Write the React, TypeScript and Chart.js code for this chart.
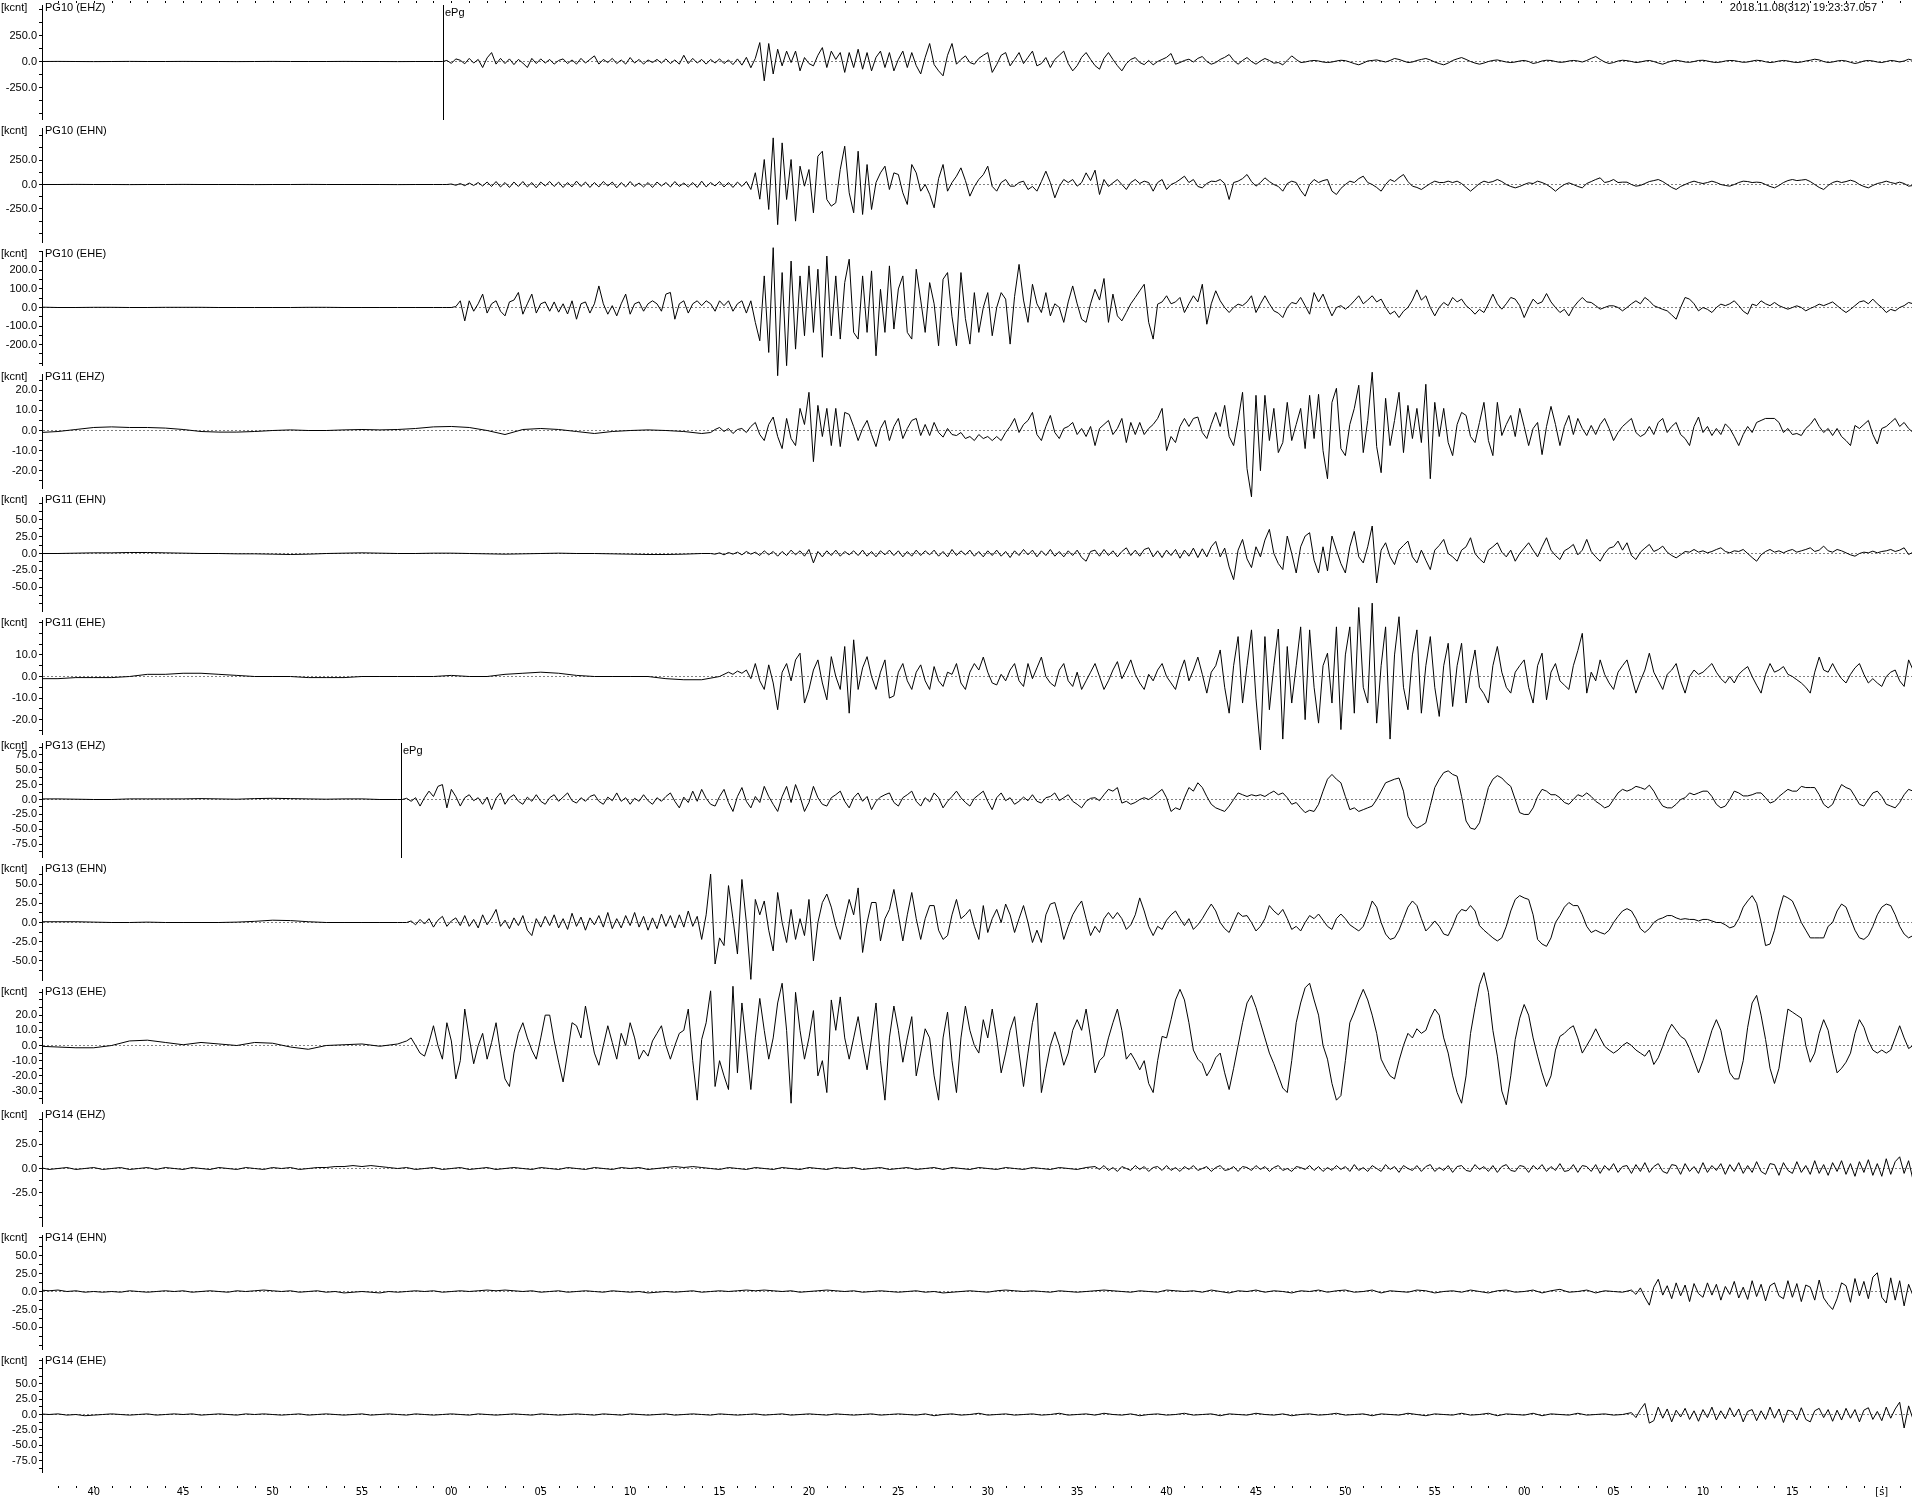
import React, { useEffect, useRef } from 'react';
import { Chart, registerables } from 'chart.js';

Chart.register(...registerables);

const FONT = "'Liberation Sans', Arial, Helvetica, sans-serif";
const FONT_NARROW = "'Liberation Sans Narrow', 'DejaVu Sans Condensed', 'Liberation Sans', Arial, sans-serif";

const X_MIN = 37.162;
const X_MAX = 141.69;
const TIMESTAMP = '2018.11.08(312) 19:23:37.057';

const CHANNELS = ['PG10 (EHZ)', 'PG10 (EHN)', 'PG10 (EHE)', 'PG11 (EHZ)', 'PG11 (EHN)', 'PG11 (EHE)', 'PG13 (EHZ)', 'PG13 (EHN)', 'PG13 (EHE)', 'PG14 (EHZ)', 'PG14 (EHN)', 'PG14 (EHE)'];
const Y_RANGE = [592, 628, 331, 30.6, 91.7, 28.5, 103, 80, 40.5, 63, 85.5, 100];
const Y_MINOR = [125, 125, 50, 5, 12.5, 5, 12.5, 12.5, 5, 12.5, 12.5, 12.5];
const Y_LABELS = [
  [250, 0, -250], [250, 0, -250], [200, 100, 0, -100, -200],
  [20, 10, 0, -10, -20], [50, 25, 0, -25, -50], [10, 0, -10, -20],
  [75, 50, 25, 0, -25, -50, -75], [50, 25, 0, -25, -50], [20, 10, 0, -10, -20, -30],
  [25, 0, -25], [50, 25, 0, -25, -50], [50, 25, 0, -25, -50, -75],
];
const X_TICK_SECONDS = [40, 45, 50, 55, 60, 65, 70, 75, 80, 85, 90, 95, 100, 105, 110, 115, 120, 125, 130, 135, 140];
const X_TICK_LABELS = ['40', '45', '50', '55', '00', '05', '10', '15', '20', '25', '30', '35', '40', '45', '50', '55', '00', '05', '10', '15', '[s]'];
const PICK_PANELS = [0, 6];
const PICK_TIMES = [59.55, 57.18];
const PICK_LABELS = ['ePg', 'ePg'];

// ---- PG10 EHZ ----
const PG10_EHZ_PRE = [0, 1, 0, -1, 0, 1, 0, 0, 1, 0, 0, -1, 0, 1, 0, 0, 0, 1, 0, 0, -1, 0, 0];
const PG10_EHZ_MAIN = [
  0, 10, -18, 25, 12, -22, 30, -15, 20, -58, 35, 86, -25, 30, -20, 25,
  -30, 20, -15, -58, 30, -20, 25, -15, 20, -25, 10, 25, -20, 15, -25, 30,
  -15, 20, 54, -25, 20, -10, 30, -20, 15, -25, 38, -15, 20, -25, 15, -10,
  20, -15, 25, -20, 15, -25, 60, -20, 30, -15, 20, -25, 20, -15, 25, -20,
  15, -30, 25, -35, 40, -60, 30, 182, -186, 173, -120, 118, -42, 100, -10, 100,
  -90, 38, -20, -42, 60, 134, -58, 100, 20, 86, -105, 86, -58, 118, -74, 86,
  -90, 40, 100, -58, 86, -90, 20, 100, -58, 86, -40, -120, 40, 173, -30, -90,
  -138, 60, 173, -26, 20, 54, -10, -26, 30, 60, 86, -105, -30, 60, 86, -42,
  20, 86, -20, 40, 100, -42, -20, 38, -58, 20, 60, 100, -20, -90, -40, 40,
  86, 20, -40, -74, 30, 86, 20, -40, -90, -20, 20, 38, -10, -30, 10, -32,
  0, 20, 40, 77, -26, -10, 10, 22, -5, 30, 48, 0, -26, -10, 20, 40,
  67, 10, -26, 10, 38, 0, -26, 5, 29, 10, -16, -10, -32, 10, 54, 20,
  -10, -5, 5, 10, 5, -5, -10, -5, 5, 12, 8, -5, -20, -32, -15, 5,
  10, 15, 5, -5, 10, 29, 20, 5, -10, -5, 10, 20, 29, 15, -5, -20,
  -32, -15, 10, 25, 38, 20, 0, -15, -26, -15, 0, 10, 15, 5, -5, -10,
  -5, 5, 10, 0, -19, -10, 5, 12, 10, 0, -8, -5, 5, 10, 5, -5,
  10, 30, 48, 20, -5, -19, -10, 5, 12, 8, 0, -10, -5, 5, 10, 0,
  -15, -26, -10, 5, 12, 5, -5, -8, 0, 10, 12, 5, -5, -10, -5, 5,
  10, 8, 0, -8, -5, 5, 12, 8, -3, -10, -5, 5, 10, 5, -5, -10,
  -5, 5, 12, 22, 15, 0, -10, -5, 5, 10, 5, -8, -19, -10, 5, 10,
  5, -5, -10, 0, 10, 5, -5, 5, 22, 10,
];

// ---- PG10 EHN ----
const PG10_EHN_PRE = [0, 0, 1, 0, 0, -1, 0, 0, 1, 0, 0, 0, -1, 0, 0, 1, 0, 0, 0, 0, -1, 0, 0];
const PG10_EHN_MAIN = [
  0, 0, 5, -8, 10, -12, 15, -10, 20, -15, 25, -20, 30, -25, 20, -30,
  25, -20, 30, -25, 20, -34, 25, -15, 30, -20, 25, -30, 20, -25, 34, -20,
  25, -30, 20, -25, 30, -15, 25, -34, 20, -25, 30, -20, 15, -25, 20, -30,
  25, -15, 20, -25, 30, -20, 15, -25, 20, -30, 34, -25, 20, -15, 30, -25,
  20, -30, 25, -20, 30, -51, 120, -150, 255, -255, 476, -410, 425, -153, 255, -374,
  187, -17, 153, -289, 289, 340, -153, -221, -187, 153, 391, -85, -289, 340, -306, 204,
  -255, 20, 119, 187, -51, 119, 102, -85, -204, 204, 119, -68, 0, -100, -238, 60,
  204, -68, 20, 85, 170, 40, -119, -20, 51, 100, 187, -20, -68, 20, 51, -17,
  -17, 20, 34, -51, -20, -68, 30, 136, 20, -136, -20, 51, 20, 51, -17, 20,
  119, 40, 146, -102, 51, -20, 17, 51, 0, -51, 20, 51, 10, 34, 20, -68,
  20, 51, -51, 0, 20, 51, 85, 20, 51, -20, -34, 10, 34, 30, 51, 10,
  -153, 20, 34, 60, 102, 30, -17, 20, 68, 30, 0, -20, -68, 10, 34, 20,
  -60, -119, 0, 51, 20, 40, 51, -68, -102, -40, 0, 34, 20, 60, 85, 20,
  0, -30, -68, 0, 51, 30, 70, 102, 30, -17, -30, -51, -20, 10, 34, 20,
  20, 34, 20, 34, 10, -30, -68, -30, 10, 34, 20, 30, 51, 30, 0, -20,
  -34, -20, 0, 17, 10, 34, 20, 0, -30, -68, -30, 0, 17, 0, -20, -34,
  10, 30, 51, 68, 20, 30, 51, 20, 24, 24, 0, -17, -10, 10, 30, 40,
  51, 30, 0, -30, -51, -20, 0, 20, 34, 20, 10, 20, 34, 20, 0, -10,
  -17, 0, 20, 34, 30, 20, 24, 20, 0, -20, -34, -10, 20, 40, 51, 40,
  45, 51, 30, 0, -30, -51, -10, 20, 34, 20, 30, 44, 30, 0, -20, -34,
  -10, 10, 20, 34, 20, 10, 24, 10, -17, -10,
];

// ---- PG10 EHE ----
const PG10_EHE_PRE = [2, 0, 0, 1, 1, 0, 0, 1, 1, 1, 0, 0, 0, 0, 0, 1, 1, 0, 0, 0, 0, 0, 0];
const PG10_EHE_MAIN = [
  0, 0, 0, 5, 36, -72, 36, -20, 20, 72, -30, 20, 36, -20, -45, 30,
  40, 81, -36, 20, 72, -30, 20, 30, -20, 30, -25, 20, -35, 36, -63, 20,
  30, -30, 20, 116, 20, -36, 10, -45, 20, 72, -36, 20, 30, -20, 20, 36,
  20, -20, 72, 81, -63, 20, 36, -30, 20, 36, 10, 36, 20, -20, 36, 10,
  36, -20, 20, 36, -30, 36, -80, -179, 170, -242, 322, -367, 188, -313, 250, -224,
  170, -152, 224, -134, 206, -268, 277, -152, 170, -170, 134, 260, -134, -170, 170, -134,
  197, -260, 98, -134, 224, -116, 100, 170, -134, -170, 206, 40, -134, 134, 20, -206,
  152, 188, -50, -206, 188, -60, -197, 80, -134, 0, 80, -152, 0, 80, 45, -197,
  60, 232, 40, -80, 125, 20, -27, 80, -45, 20, 0, -80, 30, 116, 20, -63,
  -80, 20, 98, 40, 156, -80, 72, -45, -72, -27, 20, 54, 90, 125, -80, -170,
  18, 30, 63, 20, 30, 54, -27, 20, 63, 30, 125, -90, 20, 90, 36, 0,
  -27, 0, 18, 10, 30, 63, -27, 20, 63, 20, -18, -30, -54, 0, 27, 20,
  54, 10, -36, 80, 30, 72, 10, -45, 0, 10, -9, 10, 36, 63, 20, 40,
  63, 30, 45, 0, -36, -20, -54, -20, 0, 40, 95, 40, 63, 0, -45, 0,
  27, 10, 54, 30, 45, 10, -10, -36, -10, -27, 20, 72, 20, -9, 20, 54,
  45, 10, -54, 0, 45, 20, 30, 75, 30, 0, -27, -10, -45, 0, 30, 54,
  30, 27, 10, -9, 0, 9, 9, 0, -18, 0, 20, 36, 20, 54, 36, 10,
  0, -10, -18, -40, -63, 0, 54, 45, 20, -18, 0, -10, -27, 0, 18, 10,
  20, 36, 10, -20, -36, 18, 10, 36, 20, 10, 27, 10, 0, -9, 0, 9,
  0, -18, -5, 5, 18, 10, 20, 30, 10, -10, -27, -10, 10, 30, 36, 20,
  45, 20, 0, -27, -10, -18, 0, 10, 27, 20,
];

// ---- PG11 EHZ ----
const PG11_EHZ_PRE = [-1, -0.5, 0.5, 1.5, 1.8, 1.5, 1.5, 1.2, 0.5, -0.5, -0.8, -0.8, -0.5, 0, 0.3, 0, 0, 0.3, 0.5, 0.3, 0.5, 1, 1.8, 2, 1.5, 0, -2, 0.5, 1, 0.5, -0.5, -1.5, -0.5, 0, 0.3, 0, -0.5, -1.5];
const PG11_EHZ_MAIN = [
  -1, 0.5, 1.5, -0.5, 1, -1.5, 0.5, 1, -1, 2, 4, -2, -5, 3, 6.7, -3,
  -9, 6, -4, -7.5, 11, 3, 19, -15.5, 12.5, -3, 11, -7.5, 11, -8, 9, 8,
  2, -5, 1, 5, -2, -8, 1, 5, -5, 2, 6, -4, 1, 5, 6, -2.5,
  3, -2.5, 4, -1, -3.3, 1, -2, -2.5, -1, -4, -3, -5, -2, -4, -3, -5,
  -3, -5, -1, 2, 6, -1, 3, 5, 9, -2, -5, 2, 7.5, -1, -4, 1,
  2, 4, -2, 1, -3, 2, -7.5, 1, 3, 5, -2, 1, 6, -6, 4, -2,
  4, -2, 1, 3, 6, 11, -10, -3, -6, 2, 6, 2, 6, 6.7, -1, -4,
  3, 9, 2, 12.5, -3, -7.5, 5, 19, -19, -33, 17.5, -20, 17.5, -5, 11, -11,
  -6, 14, -5, 3, 11, -9, 17.5, -4, 18, -10, -24, 14, 21, -9, -12.5, 3,
  11, 22.5, -11, 5, 29, -8, -21, 16, -7.5, 5, 19, -11, 12.5, -4, 11, -6,
  23, -24, 14, -3, 11, -6, -12.5, 3, 9, 7.5, -3, -6, 4, 14, -5, -12.5,
  14, -2.5, 3, 7.5, -3, 11, 2, -7.5, 1, 4, -12, 2, 12, 3, -7.5, 2,
  7.5, -2, 6, 1, -2.5, 2.5, -2, 3, 6, 1, -5, -1, 2, 4, 6, -1,
  -3, -1.7, 2, -2, 4, 6, -1, 2, 4, -2, -4, -7.5, 2, 6.7, -1, 2,
  -2.5, 1, -2, 3.3, 1, -3, -7.5, -2, 2, -1, 4, 5, 6, 6, 6, 4,
  -1, 1, -2, -1.5, -2.5, 1, 3, 6, 2, -1, 1, -2.5, 1, -3, -5, -7.5,
  2.5, 1, 3, 5, -2, -6.7, 1, 2, 4, 6, 2, 4, 1, -1,
];

// ---- PG11 EHN ----
const PG11_EHN_PRE = [0, 0, 0.5, 1, 1, 1.5, 1.5, 1, 0.5, 0, 0, -0.5, -0.5, -1, -1.5, -1, 0, 0.5, 1, 0.5, 0, 0, 0.5, 0.5, 0, -0.5, -1, -0.5, 0, 0.5, 0, 0, -0.5, -1, -1.5, -1.5, -1, 0];
const PG11_EHN_MAIN = [
  0, -1, 1, -2, 1.5, -1, 2, -2, 3, -1, 2, -3, 4, -2, 3, -4,
  3, -3, 5, -2, 4, -4, 6, -14, 3, -5, 4, -3, 5, -4, 3, -2,
  4, -3, 5, -4, 3, -5, 4, -2, 5, -3, 4, -5, 3, -4, 5, -3,
  4, -2, 5, -4, 3, -5, 6, -3, 4, -2, 5, -4, 3, -5, 4, -3,
  5, -4, 3, -6, 4, -3, 6, -2, 5, -5, 4, -3, 6, -4, 3, -5,
  4, -3, 5, -6, -11.5, 3, 5, -4, 6, -3, 4, -5, 3, 8.5, -3, 5,
  -4, 6, 8.5, -5, 4, -6, 5, -3, 6, -7, 5, -4, 8, -6, 7, -5,
  10, 18, -5, 8, -20, -39, 5, 21, -8, -21, 10, -5, 20, 36, 0, -15,
  -24, 26, 0, -29, 10, 26, 31, -10, -29, 10, -26, 26, 5, -15, -29, 10,
  33, -5, -14, 10, 41, -44, 5, 16, -5, -16.5, 5, 12, 18.5, -5, -14, 5,
  -10, -24, 5, 12, 21, 0, -5, -11.5, 5, 10, 23.5, 0, -8, -14, 5, 10,
  16, 2, -5, 5, -11.5, 0, 8, 16, 5, -5, 10, 23.5, 5, -3, -9, 4,
  8, 13.5, -2, 5, 21, 3, -5, -11.5, 0, 8, 10, 18.5, 5, 16, -3, -9,
  2, 8, 13.5, 3, 6, 11, 2, -3, -6.5, -2, 3, 2, 6, 2, 4, 1,
  3, 6, 8.5, 3, 1, 4, 3, 6, 0, -6, -11.5, -2, 3, 6, 2, 4,
  1, 4, 6, 2, 4, 6, 8.5, 3, 5, 11, 4, 2, 6, 4, 1, -2,
  -4, 0, 2, 1, 3.5, 1, 3, 4, 6, 3, 5, 8.5, -1.5, 2,
];

// ---- PG11 EHE ----
const PG11_EHE_PRE = [-1, -1, -0.5, -0.5, -0.5, 0, 1, 1, 1.5, 1.5, 1, 0.5, 0, 0, 0, -0.5, -0.5, -0.5, 0, 0, 0, 0, 0, 0.5, 0, 0, 1, 1.5, 2, 1.5, 0.5, 0, 0, 0, 0, -1, -1.5, -1.5, 0];
const PG11_EHE_MAIN = [
  2, 1, 2.5, 1.5, 3, -1, 6, -2, -6, 5.4, -3, -15.4, 2, 6, -2, 7.7,
  10.8, -12.3, -6, 3, 7.7, -3, -10.8, 9.2, 0, -6, 13.9, -17, 17, -6, 4, 9.2,
  0, -6, 2, 7.7, -10, -9, 2, 6, -2, -6, 2, 5.4, -2, -6, 4.6, -2,
  -4.6, 2, 1, 6, -3, -6, 2, 6, 3, 9, 2, -3, -3.9, 1, -2, 3,
  6, -2, -4.6, 6, -1, 4, 9, 0, -3, -4.6, 3, 6, -2, -4.6, 2, -6,
  -2, 2, 6, 0, -6, -2, 3, 6.9, -1, 3, 7.7, 1, -3, -6, 1, -2,
  3, 6, 0, -3, -6, 2, 7.7, -2, 3, 9, 1, -7.7, 2, 5, 12.3, -5,
  -17, 5, 18.5, -12.3, 5, 21.6, -10, -34, 18.5, -15.4, 5, 22, -29, 13.9, -12.3, 5,
  23, -20, 21.6, -5, -21.6, 5, 10.8, -12.3, 23, -24.6, 10, 23, -17, 32, -5, -12.3,
  34, -21.6, 5, 23, -29, 10, 27.7, -5, -15.4, 10, 21.6, -17, 5, 18.5, -5, -18.5,
  5, 15.4, -13.9, 5, 15.4, -12.3, 2, 12.3, -5, -8, -12.3, 5, 13.9, 2, -5, -7.7,
  2, 5, 7.7, -5, -12.3, 5, 10.8, -10.8, 2, 6, -2, -4, -6, 5, 12, 20,
  -7.7, 2, -2, 7.7, 1, -3, -6, 2, 5, 7.7, 0, -7.7, -2, 3, 10.8, 2,
  -2, -6, 1, 3, 6, -2, -7.7, 0, 3, 1, 2, 4, 6, 2, -1, -3,
  0, -3, 1, 3, 4.6, 0, -4, -7.7, 1, 6, 2, 3, 4.6, 1, 0, -1.5,
  -3, -5, -7.7, 2, 9, 3, 2, 6, 2, -1, -3, 1, 4, 6, 1, -3,
  -1, -3, -4.6, 0, 2, 3, -2, -4.6, 7.7, 3,
];

// ---- PG13 EHZ ----
const PG13_EHZ_PRE = [1, 1, 0.5, 0, 0, 1, 1, 1, 1, 1.5, 1, 0.5, 1.5, 2, 1.5, 1, 0.5, 1, 1, 0, 0];
const PG13_EHZ_MAIN = [
  0, 2, -3, 3, -11, 3, 14, 5, 22, 25, -14, 17, 5, -11, 3, 8,
  -2, 3, -8, 4, -17, 2, 11, -8, 3, 8, -3, -8, 4, -3, 8, -3,
  -8, 3, 8, -3, 4, 11, -2, -6, 3, -3, 5, 8, -3, -8, 4, -2,
  11, -3, 3, -8, 2, -3, 8, -2, -8, 3, -3, 5, 11, -3, -14, 4,
  -5, 14, -3, 17, 2, -8, -11, 5, 17, -5, -20, 5, 20, -3, -14, 5,
  -5, 22, 5, -8, -20, 5, 22, -5, 25, 5, -20, -5, 22, 3, -8, -11,
  3, 8, 14, -3, -14, 3, 11, -3, 5, -17, -3, 4, 8, 11, -5, -11,
  3, 8, 14, -3, -11, 3, -4, 11, 3, -14, -3, 5, 14, 3, -5, -11,
  2, 8, 14, -3, -17, 3, 11, -2, 3, -8, -3, 4, -2, 8, -3, -6,
  3, 5, 11, -2, 3, 8, -3, -8, -14, -3, 2, 3, -2, 8, 17, 14,
  20, -6, -3, -8, -5, 0, 3, 0, 5, 11, 17, 3, -20, -14, -17, 3,
  20, 14, 28, 20, 5, -8, -14, -17, -20, -11, 0, 11, 8, 5, 8, 6,
  8, 5, 10, 14, 8, 11, 3, -8, -5, -14, -22, -18, -20, -8, 14, 34,
  42, 34, 28, 5, -17, -14, -20, -17, -14, -11, 0, 14, 28, 31, 34, 36,
  14, -28, -42, -48, -44, -39, -10, 20, 34, 45, 48, 42, 39, 5, -36, -48,
  -50, -39, -10, 20, 34, 40, 36, 28, 22, 0, -22, -25, -25, -14, 5, 17,
  14, 8, 8, 3, -5, -8, 0, 8, 5, 11, 5, -3, -8, -14, -11, 0,
  11, 17, 14, 17, 22, 20, 17, 24, 14, 0, -11, -14, -14, -8, 0, 3,
  11, 8, 11, 14, 14, 5, -8, -14, -11, 0, 14, 11, 6, 6, 8, 11,
  11, 3, -6, -3, 5, 11, 17, 14, 14, 22, 20, 20, 20, 8, -8, -14,
  -8, 10, 25, 20, 17, 5, -8, -11, 0, 11, 14, 5, -8, -11, -14, -5,
  8, 17, 14,
];

// ---- PG13 EHN ----
const PG13_EHN_PRE = [1, 1, 1, 0.5, 0, 0, 0.5, 0, 0, 0, 0, 0.5, 1.5, 3, 2.5, 1, 0, 0, 0, 0, 0];
const PG13_EHN_MAIN = [
  0, 0, 2, -3, 4, -2, 5, -6, 3, 8, -5, 2, 6, -4, 9, -5,
  4, -7, 10, -3, 6, 17, -5, 3, -8, 6, -4, 9, -10, -17, 5, -6,
  8, -4, 10, -7, 5, -9, 12, -5, 7, -10, 6, -3, 9, -6, 13, -8,
  5, -7, 9, -4, 13, -6, 8, -10, 6, -8, 11, -5, 9, -7, 10, -6,
  15, -5, 8, -22, 10, 63, -54, -20, -30, 48, 5, -41, 56, 0, -74, 30,
  10, 28, -10, -37, 39, 0, -26, 17, -22, 5, -17, 30, -50, 0, 26, 37,
  20, -4, -22, 5, 30, 10, 45, -39, 0, 26, 26, -24, 5, 17, 43, 10,
  -24, 10, 39, 5, -22, 5, 22, 22, -10, -22, -17, 10, 30, 5, 10, 17,
  -5, -22, 22, -13, 5, 17, 0, 24, 10, -13, 5, 22, 0, -26, -10, -26,
  10, 24, 26, 5, -22, -5, 10, 20, 28, 5, -17, -5, -13, 5, 13, 5,
  13, 5, -9, -3, 10, 32, 15, -5, -17, -5, -9, 3, 10, 15, 5, -4,
  5, -9, -3, 5, 15, 24, 15, 0, -8, -13, 0, 13, 8, 9, 0, -11,
  -5, 5, 22, 15, 10, 17, 5, -9, -5, -11, 0, 9, 5, 11, 3, -5,
  -9, 5, 11, 5, -3, -7, -11, -5, 10, 28, 20, 0, -15, -22, -20, -10,
  5, 20, 28, 22, 5, -11, -5, 2, -5, -15, -17, -5, 10, 17, 15, 22,
  15, -4, -10, -15, -20, -24, -20, -5, 15, 30, 35, 32, 30, 10, -22, -28,
  -31, -20, 0, 9, 20, 26, 22, 22, 10, -5, -13, -10, -13, -15, -10, 0,
  8, 15, 18, 15, 5, -8, -13, -8, 0, 4, 6, 9, 9, 6, 4, 5,
  4, 4, 2, 4, 4, 2, 0, 0, -3, -7, -5, 5, 20, 28, 35, 25,
  0, -30, -28, -10, 15, 35, 32, 28, 15, 0, -10, -20, -20, -20, -20, -5,
  0, 15, 24, 20, 5, -10, -20, -22, -17, -5, 10, 20, 24, 22, 10, -5,
  -15, -20, -17,
];

// ---- PG13 EHE ----
const PG13_EHE_PRE = [-0.5, -1, -1.5, -1.5, 0, 3, 3.5, 2, 0.5, 2, 1, 0, 2, 1.5, -1, -2.5, 0, 0.5, 1, -0.5, 1];
const PG13_EHE_MAIN = [
  2, 3, 5, 0, -5, -7, 2, 13, 0, -9, 15, 3, -22, -10, 24, 5,
  -12, 0, 8, -9, 2, 15, -5, -22, -27, -5, 8, 15, 5, -3, -9, 5,
  20, 20, 3, -11, -24, -5, 15, 13, 5, 26, 10, -5, -13, 0, 13, 2,
  -9, 8, 0, 15, 5, -9, -3, -7, 3, 8, 13, 0, -9, 0, 8, 10,
  24, -10, -36, 4, 15, 36, -27, -10, -20, -29, 39, -18, 28, 0, -29, 5,
  31, 10, -9, 5, 28, 41, 10, -38, 35, 10, -9, 5, 23, -20, -10, -31,
  30, 10, 32, 5, -9, 5, 19, 0, -16, 5, 28, -10, -36, 5, 26, 10,
  -11, 5, 19, -20, -5, 11, 5, -20, -36, 5, 22, -10, -31, 5, 26, 10,
  0, -5, 17, 5, 24, 5, -18, -5, 10, 19, -5, -27, -5, 15, 28, -31,
  -15, 0, 9, 0, -13, -5, 10, 17, 10, 24, 5, -18, -10, -7, 5, 15,
  24, 10, -9, -5, -10, -16, -10, -25, -31, -10, 6, 5, 17, 30, 37, 30,
  15, -3, -9, -12, -20, -15, -8, -5, -18, -29, -15, 0, 15, 28, 33, 25,
  15, 5, -5, -12, -20, -28, -31, -10, 15, 28, 38, 41, 30, 20, 0, -9,
  -25, -36, -33, -10, 15, 22, 30, 37, 30, 20, 8, -9, -15, -20, -22, -10,
  0, 8, 5, 11, 8, 10, 18, 24, 20, 5, -5, -20, -31, -38, -20, 8,
  25, 40, 48, 35, 10, -7, -30, -39, -20, 4, 18, 27, 20, 5, -7, -18,
  -27, -20, -3, 6, 8, 11, 13, 5, -5, 0, 5, 11, 5, -0.5, -3, -5,
  -3, 0, 2, 0, -3, -5, -7, -3, -12.5, -8, -0.5, 8, 14, 10, 6, 4,
  -2, -10, -18, -10, 0, 10, 17, 10, -5, -18, -22, -22, -10, 12, 28, 33,
  20, 4, -15, -25, -15, 5, 24, 22, 20, 18, 0, -11, -5, 8, 17, 10,
  -5, -18, -15, -11, -5, 8, 17, 12, 3, -3, -5, -3, -5, -3, 5, 13,
  5, -2, 0,
];

// ---- PG14 EHZ ----
const PG14_EHZ_PRE = [
  1, -1, 0, 1, -1, 0, 1, -1, 0, 1, -1, 0, 1, -1, 1, 0,
  -1, 1, 0, -1, 1, 0, -1, 1, 0, -1, 1, 0, 1, -1, 0, 1,
  1, 2, 2, 3, 2, 3, 2, 1, 0, 1, -1, 0, 1, -1, 0, 1,
  -1, 0, 1, -1, 0, 1, 0, -1, 1, 0, -1, 1, 0, -1, 1, 0,
  -1, 1, 0, 1, -1, 0, 1, 2, 1, 2, 1, 0, -1, 1, 0, -1,
  1, 0, -1, 1, 0, -1, 1, 0, -1, 1, 0, 1, -1, 0, 1, -1,
  0, 1, -1, 0, 1, -1, 1, 0, -1, 1, 0, -1, 1, 0, -1, 1,
  0, -1, 1, 0, -1, 1,
];
const PG14_EHZ_MAIN = [
  2, -1, 3, -2, 1, -3, 2, 0, -2, 3, -1, 2, -3, 1, 2, -2,
  3, -2, 1, -3, 2, -1, 3, -2, 0, 2, -3, 1, 3, -2, -1, 2,
  -3, 2, 1, -2, 3, -1, 2, -3, 1, 3, -2, 0, -3, 2, 1, -1,
  3, -2, 2, -3, 1, -2, 3, -1, 2, -3, 4, -2, 1, -3, 3, 0,
  -3, 4, -1, 2, -4, 3, 0, -2, 3, -3, 2, 4, -3, 1, -2, 3,
  -4, 2, 3, -2, -3, 4, -1, 2, -3, 3, -4, 2, 4, -2, -3, 3,
  2, -4, 3, -1, 4, -3, 2, -2, 5, -3, -2, 4, -4, 3, 2, -3,
  4, -5, 3, -2, 5, -4, 2, 3, -5, 4, -3, 6, -4, 2, 5, -3,
  -5, 4, 3, -6, 5, -3, 2, -5, 6, -4, 3, -2, 5, -6, 4, -3,
  6, -5, 3, -4, 7, -3, -6, 5, 4, -7, 6, -2, -5, 7, -4, 3,
  -6, 8, -5, 4, -7, 6, -3, 8, -6, 5, -8, 7, -4, 9, -7, 5,
  -8, 10, -6, 7, 12, -5, 8, -12,
];

// ---- PG14 EHN ----
const PG14_EHN_PRE = [
  2, 1, 2, 0, 1, -1, 0, -1, 0, -1, 1, 0, -1, 0, 1, 0,
  1, -1, 0, 1, 0, -1, 1, 0, 1, 2, 1, 0, 1, -1, 0, 1,
  -1, 0, -2, -1, 0, -1, -2, 0, -1, 0, 1, 0, 1, -1, 0, 1,
  0, 1, 2, 1, 2, 1, 0, 1, -1, 0, 1, -1, 0, 1, 0, -1,
  1, 0, -1, 0, -2, -1, 0, -1, 0, 1, -1, 0, 1, 0, 1, 2,
  1, 2, 1, 0, 1, -1, 0, 1, 2, 1, 0, 1, -1, 0, 1, 0,
  -1, 0, 1, -1, 0, -2, -1, 0, 1, 0, -1, 1, 2, 1, 0, 1,
  0, -1, 1, 0, -1, 0, 1, 2, 1, 0, -1, 1, 0, -1, 2, 1,
  0, 1, -1, 2, 0, -2, 1, 0, 2, -1, 1, 0, -2, 1, 0, 2,
  -1, 1, 2, -1, 0, 2, -2, 1, 0, -1, 2, 1, -2, 0, 1, -1,
  2, 0, -2, 1, 2, -1, 0, 2, -2, 1, 3, -1, 0, 2, -2, 1,
  0, -1,
];
const PG14_EHN_MAIN = [
  2, -4, 5, -8, -19, 6, 17, -5, 8, -10, 12, -6, 9, -14, 11, -3,
  -8, 12, -5, 10, -12, 7, -4, 14, -9, 6, -11, 15, -7, 10, -13, 8,
  12, -6, -10, 15, -8, 11, -14, 9, 6, -12, 16, -9, -18, -25, -10, 12,
  8, -15, 18, -6, 14, -10, 20, 26, -8, -16, 19, -12, 15, -20, 10, -6,
];

// ---- PG14 EHE ----
const PG14_EHE_PRE = [
  1, 0, 1, -1, 0, -2, -1, 0, 1, 0, -1, 0, 1, -1, 0, 1,
  0, 1, -1, 0, 1, 0, -1, 1, 0, 1, 0, -1, 0, 1, -1, 0,
  1, 0, -1, 0, 1, -1, 0, 1, 0, -1, 1, 0, -1, 0, 1, 0,
  -1, 1, 0, -1, 0, 1, 0, -1, 1, 0, -1, 0, 1, 0, -1, 1,
  0, -1, 1, 0, -1, 0, 1, -1, 0, 1, 0, -1, 1, 0, -1, 0,
  1, -1, 0, 1, -1, 0, 1, 0, -1, 1, 0, -1, 0, 1, -1, 0,
  1, 0, -1, 1, -2, 0, 1, -1, 0, 2, -1, 0, 1, -1, 0, 1,
  -1, 0, 2, -1, 0, 1, -1, 2, 0, -1, 1, -2, 0, 1, -1, 0,
  2, -1, 0, 1, -2, 1, 0, -1, 2, 0, -1, 1, -2, 0, 1, -1,
  0, 2, -1, 0, 1, -2, 1, 0, -1, 2, 0, -2, 1, 0, -1, 2,
  -1, 0, 2, -2, 1, 0, -1, 2, -2, 1, 0, -1, 2, -1, 0, 1,
  -1, 0,
];
const PG14_EHE_MAIN = [
  3, -5, 8, 18, -14, -10, 12, -6, 9, -12, 7, -4, 10, -8, 6, -11,
  8, -5, 12, -9, 6, -7, 11, -4, 9, -12, 5, 8, -10, 6, -8, 12,
  -6, 9, -13, 7, 5, -9, 11, -8, -12, 6, 10, -5, 8, -11, 7, -9,
  10, -6, 8, -12, 7, 11, -8, 5, -10, 12, -6, 9, 20, -22, 14, -8,
];

const TRACES = [
  { pre: PG10_EHZ_PRE, preStep: 1, main: PG10_EHZ_MAIN, mainStart: 59.5 },
  { pre: PG10_EHN_PRE, preStep: 1, main: PG10_EHN_MAIN, mainStart: 59.5 },
  { pre: PG10_EHE_PRE, preStep: 1, main: PG10_EHE_MAIN, mainStart: 59.5 },
  { pre: PG11_EHZ_PRE, preStep: 1, main: PG11_EHZ_MAIN, mainStart: 74.5 },
  { pre: PG11_EHN_PRE, preStep: 1, main: PG11_EHN_MAIN, mainStart: 74.5 },
  { pre: PG11_EHE_PRE, preStep: 1, main: PG11_EHE_MAIN, mainStart: 75.5 },
  { pre: PG13_EHZ_PRE, preStep: 1, main: PG13_EHZ_MAIN, mainStart: 57.25 },
  { pre: PG13_EHN_PRE, preStep: 1, main: PG13_EHN_MAIN, mainStart: 57.25 },
  { pre: PG13_EHE_PRE, preStep: 1, main: PG13_EHE_MAIN, mainStart: 57.25 },
  { pre: PG14_EHZ_PRE, preStep: 0.5, main: PG14_EHZ_MAIN, mainStart: 96 },
  { pre: PG14_EHN_PRE, preStep: 0.5, main: PG14_EHN_MAIN, mainStart: 126 },
  { pre: PG14_EHE_PRE, preStep: 0.5, main: PG14_EHE_MAIN, mainStart: 126 },
];
const PRE_START = 37;
const MAIN_STEP = 0.25;

function buildPoints(tr: any) {
  const pts: any[] = [];
  tr.pre.forEach((v: number, i: number) => pts.push({ x: PRE_START + i * tr.preStep, y: v }));
  tr.main.forEach((v: number, i: number) => pts.push({ x: tr.mainStart + i * MAIN_STEP, y: v }));
  return pts;
}

function minorTicks(i: number) {
  const step = Y_MINOR[i];
  const lim = Y_RANGE[i] * 0.92;
  const out: number[] = [];
  const k = Math.floor(lim / step);
  for (let j = k; j >= -k; j--) out.push(j * step);
  return out;
}

const decorPlugin = {
  id: 'seisDecor',
  afterDraw(chart: any) {
    const ctx = chart.ctx;
    const xs = chart.scales.x;
    ctx.save();
    ctx.fillStyle = '#000';
    ctx.font = `11px ${FONT}`;
    ctx.textBaseline = 'middle';
    ctx.textAlign = 'left';
    for (let i = 0; i < CHANNELS.length; i++) {
      const top = chart.scales['y' + i].top;
      ctx.fillRect(42, top + 5, 1, 115);
      ctx.fillText('[kcnt]', 1, top + 8);
      ctx.fillText(CHANNELS[i], 45, top + 8);
    }
    for (let p = 0; p < PICK_PANELS.length; p++) {
      const top = chart.scales['y' + PICK_PANELS[p]].top;
      const px = Math.round(xs.getPixelForValue(PICK_TIMES[p]));
      ctx.fillRect(px, top + 5, 1, 115);
      ctx.fillText(PICK_LABELS[p], px + 2, top + 13);
    }
    for (let s = Math.ceil(X_MIN); s <= Math.floor(X_MAX); s++) {
      const px = Math.round(xs.getPixelForValue(s));
      ctx.fillRect(px, 1486, 1, 2);
      ctx.fillRect(px, 1, 1, 2);
    }
    ctx.textAlign = 'right';
    ctx.fillText(TIMESTAMP, 1877, 8);
    ctx.restore();
  },
};

export default function App() {
  const ref = useRef<HTMLCanvasElement>(null);
  useEffect(() => {
    document.body.style.margin = '0';
    const canvas = ref.current;
    if (!canvas) return;
    const datasets: any[] = [];
    TRACES.forEach((tr, i) => {
      datasets.push({
        data: buildPoints(tr),
        yAxisID: 'y' + i,
        xAxisID: 'x',
        borderColor: '#000',
        borderWidth: 1,
        pointRadius: 0,
        tension: 0,
        fill: false,
        order: 0,
        clip: { left: 0, right: 0, top: false, bottom: false },
      });
    });
    TRACES.forEach((_, i) => {
      datasets.push({
        data: [{ x: X_MIN, y: 0 }, { x: X_MAX, y: 0 }],
        yAxisID: 'y' + i,
        xAxisID: 'x',
        borderColor: '#808080',
        borderWidth: 1,
        borderDash: [2, 2],
        pointRadius: 0,
        fill: false,
        order: 1,
      });
    });
    const scales: any = {
      x: {
        type: 'linear',
        position: 'bottom',
        min: X_MIN,
        max: X_MAX,
        afterBuildTicks: (s: any) => {
          const t: any[] = [];
          for (let v = Math.ceil(X_MIN); v <= Math.floor(X_MAX); v++) t.push({ value: v });
          s.ticks = t;
        },
        afterFit: (s: any) => {
          s.height = 24;
          s.paddingLeft = 0;
          s.paddingRight = 0;
        },
        grid: { display: false, drawTicks: false },
        border: { display: false },
        ticks: {
          autoSkip: false,
          maxRotation: 0,
          minRotation: 0,
          padding: 10,
          color: '#000',
          font: { family: FONT_NARROW, size: 11 },
          callback: (v: any) => {
            const k = X_TICK_SECONDS.indexOf(v);
            return k >= 0 ? X_TICK_LABELS[k] : '';
          },
        },
      },
    };
    CHANNELS.forEach((_, i) => {
      scales['y' + i] = {
        type: 'linear',
        position: 'left',
        stack: 'seis',
        stackWeight: 1,
        weight: CHANNELS.length - i,
        min: -Y_RANGE[i],
        max: Y_RANGE[i],
        offset: false,
        afterBuildTicks: (s: any) => {
          s.ticks = minorTicks(i).map((v) => ({ value: v }));
        },
        afterFit: (s: any) => {
          s.width = 43;
          s.paddingTop = 0;
          s.paddingBottom = 0;
        },
        grid: { display: true, drawOnChartArea: false, drawTicks: true, tickLength: 4, color: '#000', lineWidth: 1 },
        border: { display: false },
        ticks: {
          autoSkip: false,
          padding: 2,
          color: '#000',
          font: { family: FONT, size: 11 },
          callback: (v: any) => (Y_LABELS[i].includes(v) ? Number(v).toFixed(1) : ''),
        },
      };
    });
    const chart = new Chart(canvas, {
      type: 'line',
      data: { datasets },
      options: {
        responsive: false,
        maintainAspectRatio: false,
        devicePixelRatio: 1,
        animation: false,
        parsing: false,
        normalized: true,
        events: [],
        layout: { padding: 0 },
        plugins: { legend: { display: false }, tooltip: { enabled: false }, title: { display: false } },
        scales,
      } as any,
      plugins: [decorPlugin],
    } as any);
    return () => chart.destroy();
  }, []);
  return (
    <div style={{ width: 1912, height: 1500, background: '#fff' }}>
      <canvas ref={ref} width={1912} height={1500} style={{ display: 'block', width: 1912, height: 1500 }} />
    </div>
  );
}
